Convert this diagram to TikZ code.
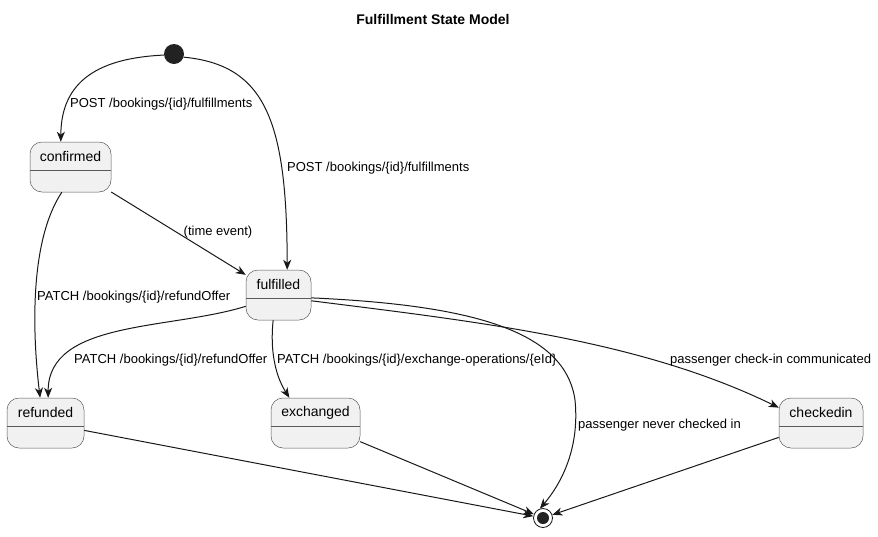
\documentclass[tikz,border=0pt]{standalone}
\usepackage{fontspec}
\setmainfont{Liberation Sans}
\usepackage{tikz}
\usetikzlibrary{arrows.meta,positioning,calc}
\definecolor{umlline}{HTML}{181818}
\definecolor{umlbox}{HTML}{5A5A5A}
\definecolor{umlfill}{HTML}{F1F1F1}
\definecolor{umldot}{HTML}{222222}

\begin{document}
\begin{tikzpicture}[
    x=1pt, y=-1pt,
    state/.style={draw=umlbox, line width=0.5pt, fill=umlfill, rounded corners=12pt, minimum height=50pt, inner sep=0pt},
    trans/.style={-{Stealth[length=10pt, width=8pt, inset=3pt]}, draw=umlline, line width=1pt},
    lbl/.style={font=\fontsize{13}{15}\selectfont, inner sep=0pt, anchor=west},
    sname/.style={font=\fontsize{14}{16}\selectfont, inner sep=0pt}
]
\useasboundingbox (0,0) rectangle (878,536);

% タイトル
\node[font=\bfseries\fontsize{14}{16}\selectfont] (title) at (433,19) {Fulfillment State Model};

% 開始・終了
\node[circle, fill=umldot, minimum size=20pt, inner sep=0pt] (start) at (174,54) {};
\node[circle, draw=umlline, line width=0.8pt, fill=white, minimum size=19pt, inner sep=0pt] (stop) at (543,518) {};
\fill[umldot] (stop.center) circle (6pt);

% 状態
\node[state, minimum width=81pt] (confirmed) at (70.5,167) {};
\node[state, minimum width=65pt] (fulfilled) at (278.5,295) {};
\node[state, minimum width=77pt] (refunded) at (45.5,423) {};
\node[state, minimum width=89pt] (exchanged) at (315.5,423) {};
\node[state, minimum width=84pt] (checkedin) at (821,423) {};

% 状態名と区切り線
\foreach \s in {confirmed, fulfilled, refunded, exchanged, checkedin} {
    \draw[umlbox, line width=0.5pt] ($(\s.north west)+(0,28)$) -- ($(\s.north east)+(0,28)$);
    \node[sname] (\s-name) at ($(\s.north)+(0,15)$) {\s};
}

% 遷移
\draw[trans] (start.186) .. controls (100,58) and (61,80) .. (confirmed.111);
\node[lbl] (post-a) at (70,104) {POST /bookings/\{id\}/fulfillments};

\draw[trans] (start.-18) .. controls (265,65) and (287,120) .. (fulfilled.71);
\node[lbl] (post-b) at (287,168) {POST /bookings/\{id\}/fulfillments};

\draw[trans] (confirmed) -- (fulfilled);
\node[lbl, anchor=center] (timeevt) at (218,232) {(time event)};

\draw[trans] (confirmed.251) .. controls (30,240) and (32,330) .. (refunded.102);
\node[lbl] (refund-a) at (37,297) {PATCH /bookings/\{id\}/refundOffer};

\draw[trans] (fulfilled.199) .. controls (170,330) and (48,320) .. (refunded.84);
\node[lbl] (refund-b) at (74,360) {PATCH /bookings/\{id\}/refundOffer};

\draw[trans] (fulfilled.258) .. controls (270,350) and (275,375) .. (exchanged.136);
\node[lbl] (exch) at (277,360) {PATCH /bookings/\{id\}/exchange-operations/\{eId\}};

\draw[trans] (fulfilled.-5) .. controls (470,305) and (565,330) .. (575,400)
    .. controls (580,450) and (560,485) .. (stop.108);
\node[lbl] (never) at (578,425) {passenger never checked in};

\draw[trans] (fulfilled.-10) .. controls (480,322) and (640,340) .. (checkedin.160);
\node[lbl] (checkin) at (670,360) {passenger check-in communicated};

% 終了へ
\draw[trans] (refunded) -- (stop);
\draw[trans] (exchanged) -- (stop);
\draw[trans] (checkedin) -- (stop);

\end{tikzpicture}
\end{document}
